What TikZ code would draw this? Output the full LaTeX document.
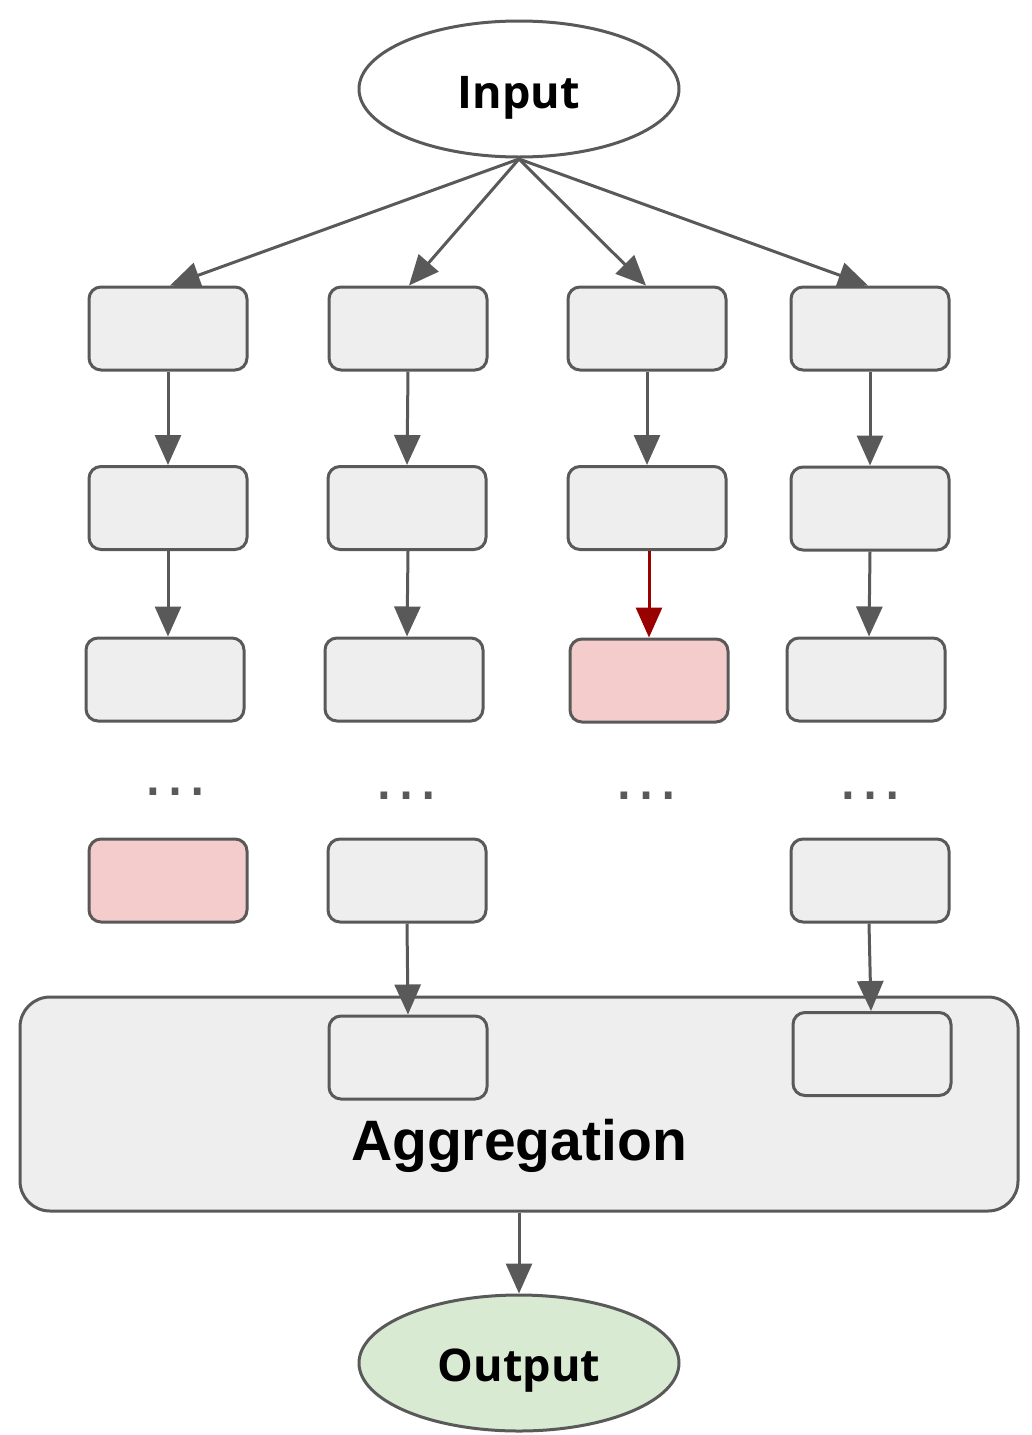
\documentclass[tikz,border=0pt]{standalone}
\usepackage{fontspec}
\setmainfont{Liberation Sans}
\newfontfamily\labfont{Open Sans}
\usetikzlibrary{arrows.meta,shapes.geometric}
\definecolor{strk}{HTML}{595959}
\definecolor{boxfill}{HTML}{EEEEEE}
\definecolor{pinkfill}{HTML}{F4CCCC}
\definecolor{greenfill}{HTML}{D9EAD3}
\definecolor{redline}{HTML}{990000}
\begin{document}
\begin{tikzpicture}[x=1pt,y=-1pt,
  stepbox/.style={draw=strk, line width=3pt, fill=boxfill, rounded corners=12pt, minimum width=158pt, minimum height=83pt, inner sep=0pt},
  hotbox/.style={stepbox, fill=pinkfill},
  conn/.style={draw=strk, line width=3pt, -{Triangle[length=30pt,width=26pt]}},
  hotconn/.style={draw=redline, line width=3pt, -{Triangle[length=30pt,width=26pt]}},
  dotsl/.style={text=strk, font=\fontsize{70}{74}\selectfont, inner sep=0pt},
  ell/.style={draw=strk, line width=3pt, ellipse, minimum width=320pt, minimum height=136pt, inner sep=0pt}
]
\useasboundingbox (0,0) rectangle (1032,1435);

% aggregation container
\node[draw=strk, line width=3pt, fill=boxfill, rounded corners=30pt, minimum width=998pt, minimum height=214pt, inner sep=0pt] (agg) at (519,1104) {};
\node[font=\bfseries\fontsize{57}{60}\selectfont, inner sep=0pt, anchor=base] (aggtxt) at (519,1160) {Aggregation};

% input / output
\node[ell, fill=white] (in) at (519,89) {};
\node[font=\labfont\bfseries\fontsize{45}{50}\selectfont, inner sep=0pt, anchor=base] (intxt) at (519,108) {Input};
\node[ell, fill=greenfill] (out) at (519,1363) {};
\node[font=\labfont\bfseries\fontsize{45}{50}\selectfont, inner sep=0pt, anchor=base] (outtxt) at (519,1381) {Output};

\coordinate (src) at (519,159);

% column 1
\node[stepbox] (a1) at (168,328.5) {};
\node[stepbox] (a2) at (168,508) {};
\node[stepbox] (a3) at (165,679.5) {};
\node[dotsl] (ad) at (175,792) {…};
\node[hotbox] (a5) at (168,880.5) {};
% column 2
\node[stepbox] (b1) at (408,328.5) {};
\node[stepbox] (b2) at (407,508) {};
\node[stepbox] (b3) at (404,679.5) {};
\node[dotsl] (bd) at (406,796) {…};
\node[stepbox] (b5) at (407,880.5) {};
\node[stepbox, fill=none] (b6) at (408,1057.5) {};
% column 3
\node[stepbox] (c1) at (647,328.5) {};
\node[stepbox] (c2) at (647,508) {};
\node[hotbox] (c3) at (649,680.5) {};
\node[dotsl] (cd) at (646,796) {…};
% column 4
\node[stepbox] (d1) at (870,328.5) {};
\node[stepbox] (d2) at (870,508.5) {};
\node[stepbox] (d3) at (866,679.5) {};
\node[dotsl] (dd) at (870,796) {…};
\node[stepbox] (d5) at (870,880.5) {};
\node[stepbox, fill=none] (d6) at (872,1054) {};

% connectors from input
\draw[conn] (src) -- ([xshift=2pt]a1.north);
\draw[conn] (src) -- ([xshift=1pt]b1.north);
\draw[conn] (src) -- ([xshift=-1pt]c1.north);
\draw[conn] (src) -- ([xshift=-2pt]d1.north);

% column connectors
\draw[conn] (a1.south) -- (a2.north);
\draw[conn] (a2.south) -- ([xshift=3pt]a3.north);
\draw[conn] (b1.south) -- (b2.north);
\draw[conn] ([xshift=1pt]b2.south) -- ([xshift=3pt]b3.north);
\draw[conn] (c1.south) -- (c2.north);
\draw[hotconn] ([xshift=2pt]c2.south) -- (c3.north);
\draw[conn] (d1.south) -- (d2.north);
\draw[conn] (d2.south) -- ([xshift=3pt]d3.north);
\draw[conn] (b5.south) -- (b6.north);
\draw[conn] ([xshift=-1pt]d5.south) -- ([xshift=-1pt]d6.north);
\draw[conn] (agg.south) -- (out.north);
\end{tikzpicture}
\end{document}
